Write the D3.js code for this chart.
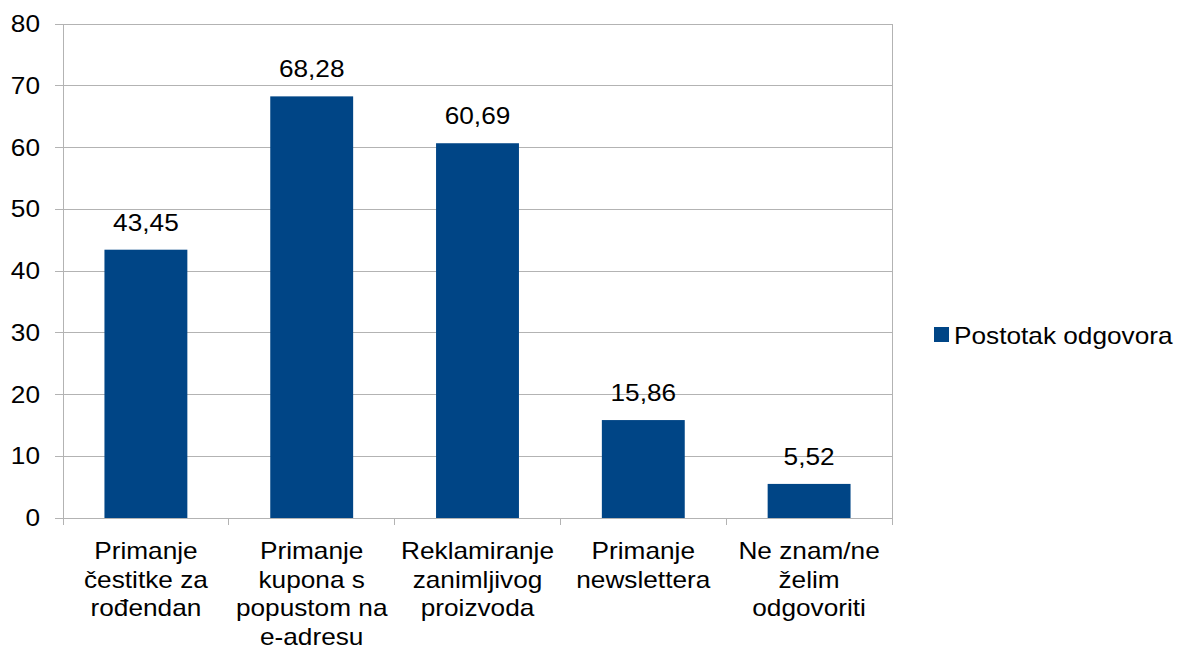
<!DOCTYPE html>
<html><head><meta charset="utf-8">
<script src="https://cdn.jsdelivr.net/npm/d3@7"></script>
<style>body{margin:0;background:#fff}svg{display:block;font-family:"Liberation Sans",Arial,sans-serif}</style>
</head><body><svg id="c" width="1179" height="653"></svg>
<script>
const categories = [["Primanje","čestitke za","rođendan"],["Primanje","kupona s","popustom na","e-adresu"],["Reklamiranje","zanimljivog","proizvoda"],["Primanje","newslettera"],["Ne znam/ne","želim","odgovoriti"]];
const values = [43.45, 68.28, 60.69, 15.86, 5.52];
const valueLabels = ["43,45","68,28","60,69","15,86","5,52"];
const yTicks = [0,10,20,30,40,50,60,70,80];
const seriesName = "Postotak odgovora";

const svg = d3.select("#c");
const L=63, R=892, T=24, B=518;
const FS=23, SX=1.14;
const x = d3.scaleBand().domain(d3.range(values.length)).range([L,R]).paddingInner(0.5).paddingOuter(0.25);
const y = d3.scaleLinear().domain([0,80]).range([B,T]);
const grid="#b3b3b3";

function txt(g, px, py, s, anchor){
  return g.append("text").attr("transform",`translate(${px},${py}) scale(${SX},1)`)
    .attr("text-anchor",anchor).attr("font-size",FS).attr("fill","#000").text(s);
}

// gridlines
svg.append("g").selectAll("line").data(yTicks).join("line")
  .attr("x1",L-8).attr("x2",R).attr("y1",d=>y(d)).attr("y2",d=>y(d))
  .attr("stroke",grid).attr("stroke-width",1).attr("shape-rendering","crispEdges");
// y labels
const yl = svg.append("g");
yTicks.forEach(d=>txt(yl,40,y(d)+8,String(d),"end"));
// axis lines
svg.append("line").attr("x1",L).attr("x2",L).attr("y1",T).attr("y2",B+7).attr("stroke",grid).attr("shape-rendering","crispEdges");
svg.append("line").attr("x1",R).attr("x2",R).attr("y1",T).attr("y2",B+7).attr("stroke",grid).attr("shape-rendering","crispEdges");
const step = (R-L)/values.length;
svg.append("g").selectAll("line").data(d3.range(1,values.length)).join("line")
  .attr("x1",d=>L+d*step).attr("x2",d=>L+d*step).attr("y1",B).attr("y2",B+7)
  .attr("stroke",grid).attr("shape-rendering","crispEdges");

// bars
svg.append("g").selectAll("rect").data(values).join("rect")
  .attr("x",(d,i)=>x(i)).attr("width",x.bandwidth())
  .attr("y",d=>y(d)).attr("height",d=>B-y(d)).attr("fill","#004586");
// value labels
const vl = svg.append("g");
values.forEach((d,i)=>txt(vl, x(i)+x.bandwidth()/2, y(d)-19, valueLabels[i], "middle"));
// category labels
const cl = svg.append("g");
categories.forEach((lines,i)=>lines.forEach((s,j)=>txt(cl, x(i)+x.bandwidth()/2, 559+j*28.7, s, "middle")));

// legend
svg.append("rect").attr("x",934).attr("y",327).attr("width",15).attr("height",15).attr("fill","#004586");
txt(svg, 954, 344, seriesName, "start");
</script></body></html>
